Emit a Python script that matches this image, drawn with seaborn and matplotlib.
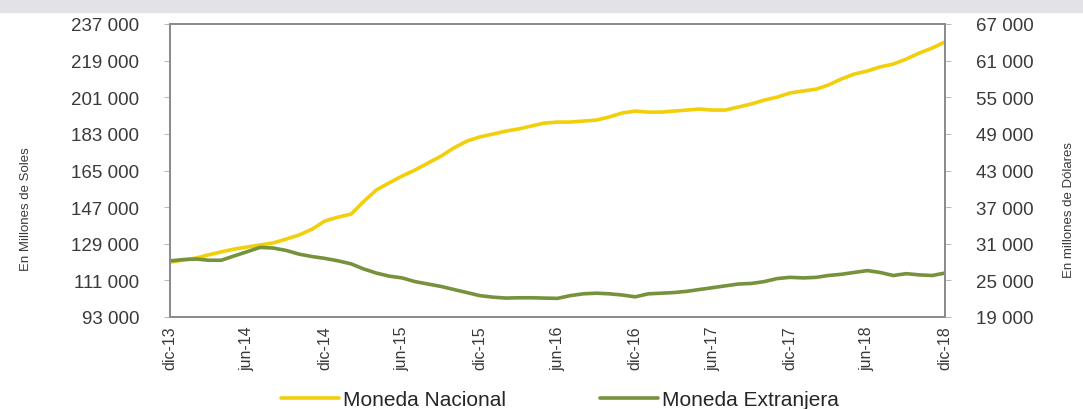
import matplotlib.pyplot as plt
import matplotlib.patches as mpatches
import seaborn as sns
import pandas as pd
import numpy as np

# saldos mensuales dic-13 .. dic-18
meses = pd.date_range("2013-12-01", periods=61, freq="MS")

moneda_nacional = [
    120000, 121000, 122000, 123500, 125000, 126400, 127400, 128400, 129400, 131300,
    133300, 136200, 140200, 142100, 143600, 149500, 155400, 158900, 162300, 165200,
    168700, 172100, 176100, 179500, 181500, 182900, 184400, 185400, 186900, 188300,
    188800, 188800, 189300, 189800, 191300, 193300, 194200, 193700, 193700, 194200,
    194700, 195200, 194700, 194700, 196200, 197700, 199600, 201100, 203100, 204100,
    205000, 207000, 210000, 212400, 213900, 215900, 217300, 219800, 222700, 225200,
    228200,
]

moneda_extranjera = [
    28200, 28400, 28500, 28300, 28300, 29000, 29700, 30400, 30300, 29900,
    29300, 28900, 28600, 28200, 27700, 26900, 26200, 25700, 25400, 24800,
    24400, 24000, 23500, 23000, 22500, 22250, 22100, 22150, 22150, 22100,
    22050, 22500, 22800, 22900, 22800, 22600, 22300, 22800, 22900, 23000,
    23200, 23500, 23800, 24100, 24400, 24500, 24800, 25300, 25500, 25400,
    25500, 25800, 26000, 26300, 26600, 26300, 25800, 26100, 25900, 25800,
    26200,
]

etiquetas_x = ["dic-13", "jun-14", "dic-14", "jun-15", "dic-15", "jun-16",
               "dic-16", "jun-17", "dic-17", "jun-18", "dic-18"]
ticks_izq = [93000, 111000, 129000, 147000, 165000, 183000, 201000, 219000, 237000]
ticks_der = [19000, 25000, 31000, 37000, 43000, 49000, 55000, 61000, 67000]

df = pd.DataFrame({"mes": meses, "MN": moneda_nacional, "ME": moneda_extranjera})

sns.set_style("white")
plt.rcParams['font.family'] = ['Liberation Sans', 'DejaVu Sans']

amarillo = "#f2cf0a"
verde = "#76923c"
gris = "#8c8c8c"
texto = "#3a3a3a"

fig = plt.figure(figsize=(10.83, 4.10), dpi=100)
ax = fig.add_axes([170 / 1083, 1 - 318 / 410, 775 / 1083, 293 / 410])
ax2 = ax.twinx()

sns.lineplot(data=df, x="mes", y="MN", ax=ax, color=amarillo, linewidth=2.6,
             label="Moneda Nacional", legend=False)
sns.lineplot(data=df, x="mes", y="ME", ax=ax2, color=verde, linewidth=2.6,
             label="Moneda Extranjera", legend=False)

ax.set_xlim(meses[0], meses[-1])
ax.set_ylim(93000, 237000)
ax2.set_ylim(19000, 67000)
ax.set_yticks(ticks_izq)
ax2.set_yticks(ticks_der)
fmt = lambda v: f"{v:,}".replace(",", " ")
ax.set_yticklabels([fmt(v) for v in ticks_izq], fontsize=13.5, color=texto)
ax2.set_yticklabels([fmt(v) for v in ticks_der], fontsize=13.5, color=texto)

ax.set_xticks(meses[::6])
ax.set_xticklabels(etiquetas_x, rotation=90, fontsize=11.5, color=texto)

ax.set_xlabel("")
ax.set_ylabel("En Millones de Soles", fontsize=9.5, color=texto)
ax2.set_ylabel("En millones de Dólares", fontsize=9.5, color=texto)
ax.yaxis.set_label_coords(-138 / 775, 0.37)
ax2.yaxis.set_label_coords(1 + 118 / 775, 0.37)

for a in (ax, ax2):
    for s in a.spines.values():
        s.set_color(gris)
        s.set_linewidth(1.4)
    a.tick_params(axis="y", length=4, width=0.8, color="#bbbbbb", pad=18)
ax.tick_params(axis="x", direction="inout", length=6, width=0.8, color="#bbbbbb", pad=3)
ax.grid(False)
ax2.grid(False)

h1, l1 = ax.get_legend_handles_labels()
h2, l2 = ax2.get_legend_handles_labels()
fig.legend(h1 + h2, l1 + l2, loc="center", bbox_to_anchor=(0.517, 1 - 401 / 410),
           ncol=2, frameon=False, handlelength=2.8, columnspacing=4.5,
           handletextpad=0.2, prop={'size': 15})

# franja gris de la captura en la parte superior
fig.patches.append(mpatches.Rectangle((0, 1 - 13 / 410), 1, 13 / 410,
                                      transform=fig.transFigure,
                                      color="#e3e3e7", zorder=0))

fig.savefig("out.png", dpi=100)
